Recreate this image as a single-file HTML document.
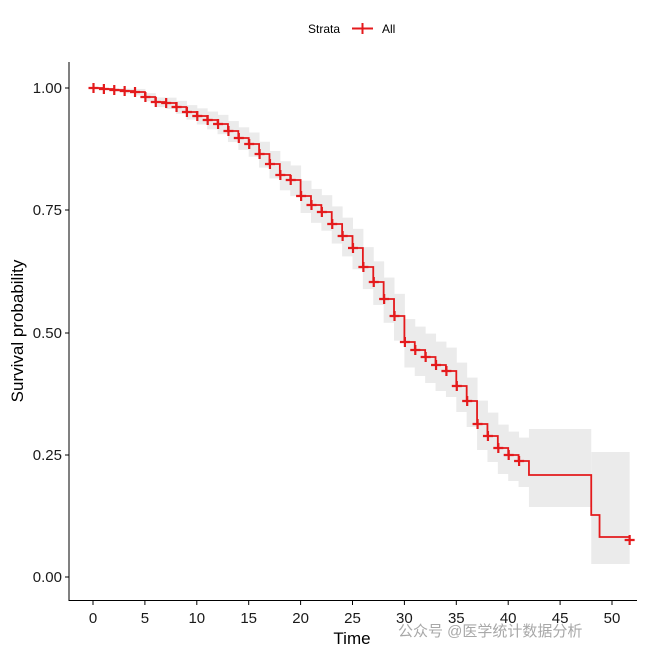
<!DOCTYPE html>
<html><head><meta charset="utf-8"><style>
body{margin:0;background:#fff;}
svg{display:block;font-family:"Liberation Sans","Noto Sans CJK SC",sans-serif;}
</style></head><body>
<svg id="s" width="645" height="656" viewBox="0 0 645 656">
<rect width="645" height="656" fill="#fff"/>
<g id="band"></g>
<g id="curve"></g>
<line x1="69" y1="62" x2="69" y2="601" stroke="#000" stroke-width="1"/>
<line x1="68.5" y1="600.5" x2="637" y2="600.5" stroke="#000" stroke-width="1"/>
<g font-size="15" fill="#1a1a1a" text-anchor="end">
<text x="62" y="93">1.00</text><text x="62" y="215">0.75</text><text x="62" y="338">0.50</text><text x="62" y="460">0.25</text><text x="62" y="582">0.00</text>
</g>
<g stroke="#000"><line x1="65" y1="88" x2="69" y2="88"/><line x1="65" y1="210" x2="69" y2="210"/><line x1="65" y1="333" x2="69" y2="333"/><line x1="65" y1="455" x2="69" y2="455"/><line x1="65" y1="577" x2="69" y2="577"/></g>
<g id="xt" font-size="15" fill="#1a1a1a" text-anchor="middle"></g>
<text x="352" y="644" font-size="17" text-anchor="middle" fill="#000">Time</text>
<text transform="translate(23,331) rotate(-90)" font-size="17" text-anchor="middle" fill="#000">Survival probability</text>
<text x="308" y="33" font-size="12" fill="#000">Strata</text>
<line x1="352" y1="28.5" x2="373" y2="28.5" stroke="#e41a1c" stroke-width="2"/>
<line x1="362.5" y1="23" x2="362.5" y2="34" stroke="#e41a1c" stroke-width="2"/>
<text x="382" y="33" font-size="12" fill="#000">All</text>
<text x="398" y="636" font-size="15" fill="#a8a8a8">公众号 @医学统计数据分析</text>
</svg>
<script>
var X=function(t){return 93+t*10.38;};
var lv=[88,89,90,91,92,97,102,103,107,112,116,120,124,131,138,144,154,164,175,180,196,205,212,224,236,248,267,282,299,316,342,350,357,365,371,386,401,424,436,448,455,461];
var NS="http://www.w3.org/2000/svg";
function el(p,n,a){var e=document.createElementNS(NS,n);for(var k in a)e.setAttribute(k,a[k]);p.appendChild(e);return e;}
var band=document.getElementById('band'),cur=document.getElementById('curve');
for(var i=0;i<lv.length;i++){var h=Math.min(26,i*0.85);var hu=h*0.9;
el(band,'rect',{x:X(i),y:lv[i]-hu,width:X(i+1)-X(i)+0.5,height:hu+h,fill:'#ebebeb'});}
el(band,'rect',{x:X(42),y:429,width:X(48)-X(42),height:78,fill:'#ebebeb'});
el(band,'rect',{x:X(48),y:452,width:X(51.7)-X(48),height:112,fill:'#ebebeb'});
var d='M'+X(0)+' '+lv[0];
for(var i=1;i<lv.length;i++){d+=' H'+X(i)+' V'+lv[i];}
d+=' H'+X(42)+' V475 H'+X(48)+' V515 H'+X(48.8)+' V537 H'+X(51.7);
el(cur,'path',{d:d,fill:'none',stroke:'#e41a1c','stroke-width':1.8});
function mark(x,y){el(cur,'path',{d:'M'+(x-5)+' '+y+' H'+(x+5)+' M'+x+' '+(y-5)+' V'+(y+5),stroke:'#e41a1c','stroke-width':2.2});}
for(var i=0;i<lv.length;i++)mark(X(i)+0.5,lv[i]);
mark(X(51.7),540);
var xt=document.getElementById('xt');
for(var t=0;t<=50;t+=5){el(xt,'line',{x1:X(t),y1:601,x2:X(t),y2:605,stroke:'#000'});var tx=el(xt,'text',{x:X(t),y:623});tx.textContent=t;}
</script>
</body></html>
